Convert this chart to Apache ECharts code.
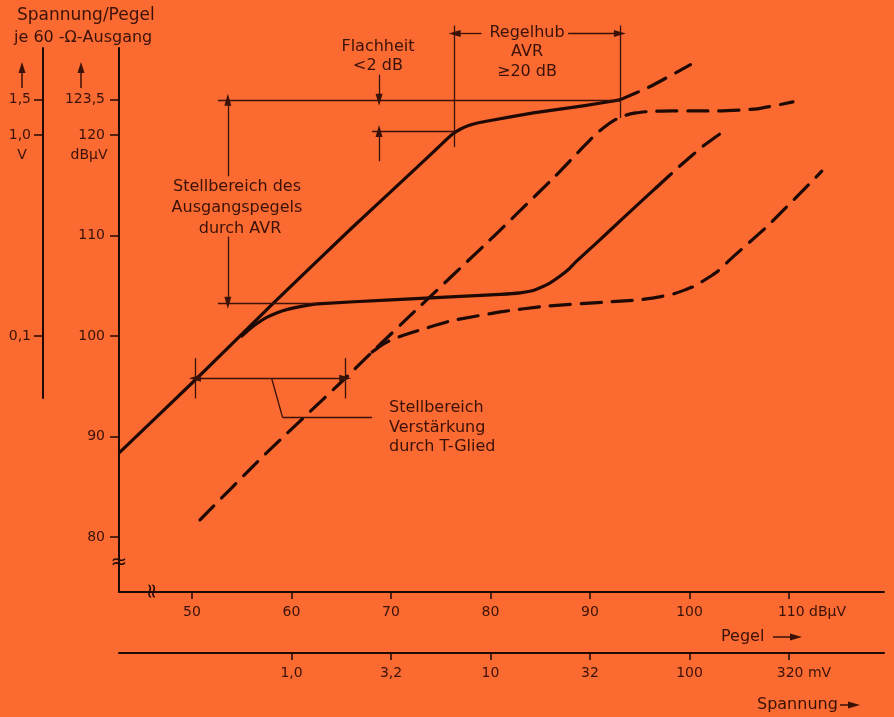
<!DOCTYPE html>
<html><head><meta charset="utf-8">
<script src="https://cdn.jsdelivr.net/npm/echarts@6/dist/echarts.min.js"></script>
<style>html,body{margin:0;padding:0;background:#fb6a30;}#c{width:894px;height:717px;}</style>
</head><body><div id="c"></div>
<script>
// ---------- data ----------
const pegelTicks = [50, 60, 70, 80, 90, 100, 110];
const pegelLabels = ['50', '60', '70', '80', '90', '100', '110'];
const spannungTicks = [60, 70, 80, 90, 100, 110];
const spannungLabels = ['1,0', '3,2', '10', '32', '100', '320'];
const outTicks = [80, 90, 100, 110, 120, 123.5];
const outLabels = ['80', '90', '100', '110', '120', '123,5'];
const voltTicks = [100, 120, 123.5];
const voltLabels = ['0,1', '1,0', '1,5'];

// solid: with AVR, upper control limit
const curveA = [[42.7,88.4],[50.5,95.8],[58.1,103.2],[66,110.7],[73.6,117.7],[75.3,119.3],[76.2,120.1],[77.0,120.6],[77.8,120.95],[78.7,121.2],[80,121.45],[84.3,122.2],[89.3,122.9],[93.0,123.5]];
const curveAext = [[93.0,123.5],[96.0,124.8],[100.1,127.0]];
// solid: with AVR, lower control limit
const curveB = [[55.0,100.0],[55.8,100.7],[56.6,101.3],[57.5,101.85],[58.5,102.3],[59.6,102.65],[61,102.95],[62.6,103.2],[70,103.6],[76,103.9],[81,104.15],[83.0,104.3],[84.2,104.5],[85.1,104.85],[86.0,105.3],[86.9,105.9],[87.8,106.6],[88.6,107.4],[90.8,109.4],[93.3,111.7],[95.8,114.0],[96.7,114.8]];
const curveBext = [[96.7,114.8],[99,116.9],[101.5,119.0],[103.6,120.5]];
// dashed: with T-Glied attenuation
const curveC = [[50.8,81.7],[57.1,88.0],[65.4,95.8],[68.1,98.4],[72,102.1],[80.3,109.9],[86.6,116.0],[89.3,118.8],[90.6,120.1],[91.6,120.9],[92.5,121.5],[93.5,121.95],[94.6,122.2],[96,122.35],[98.3,122.4],[102.8,122.4],[106.8,122.6],[110.4,123.3]];
const curveD = [[68.1,98.4],[68.9,99.0],[69.8,99.5],[70.9,99.95],[72.6,100.5],[76,101.5],[81,102.4],[85.3,102.95],[92,103.4],[95,103.6],[97,103.9],[98.6,104.25],[99.7,104.65],[100.6,105.0],[101.4,105.5],[102.2,106.0],[102.9,106.5],[104.4,107.9],[107.8,110.9],[113.3,116.4]];

// annotation segments in data units: [x1, y1, x2, y2, arrowAtEnd]
const annoLines = [
  [52.6,123.5, 93.0,123.5, 0],
  [52.6,103.3, 62.6,103.3, 0],
  [53.6,115.9, 53.6,123.5, 1],
  [53.6,109.9, 53.6,103.3, 1],
  [68.1,120.4, 76.4,120.4, 0],
  [68.8,117.4, 68.8,120.4, 1],
  [68.8,126.0, 68.8,123.5, 1],
  [76.4,130.9, 76.4,118.8, 0],
  [93.0,130.9, 93.0,121.7, 0],
  [79.1,130.1, 76.4,130.1, 1],
  [87.8,130.1, 93.0,130.1, 1],
  [50.3,97.8, 50.3,93.8, 0],
  [65.4,97.8, 65.4,93.8, 0],
  [57.8,95.8, 50.3,95.8, 1],
  [57.8,95.8, 65.4,95.8, 1],
  [58.0,95.8, 59.1,91.9, 0],
  [59.1,91.9, 68.1,91.9, 0]
];

// ---------- chart ----------
const BG = '#fb6a30', INK = '#1e0904', TXT = '#3a1208';
const FONT = '"DejaVu Sans", sans-serif';
const X_MIN = 42.66, X_MAX = 119.55, Y_MIN = 74.53, Y_MAX = 128.66;
const Y2_MAX = Y_MIN + (577 / 544) * (Y_MAX - Y_MIN);
const YV_MIN = Y_MAX - (350 / 544) * (Y_MAX - Y_MIN);

const lab = (ticks, labels) => v => { const i = ticks.indexOf(v); return i < 0 ? '' : labels[i]; };

function curve(data, dashed) {
  return {
    type: 'line', xAxisIndex: 0, yAxisIndex: 0, data, symbol: 'none', showSymbol: false,
    smooth: 0.15, silent: true, z: 3,
    lineStyle: { color: INK, width: 3.2, type: dashed ? [20, 11] : 'solid', cap: 'round', join: 'round' }
  };
}

function txt(x, y, s, opt) {
  return { type: 'text', x, y, silent: true, z: 10,
    style: Object.assign({ text: s, fill: TXT, fontSize: 16, fontFamily: FONT, align: 'center', verticalAlign: 'middle' }, opt || {}) };
}
function seg(x1, y1, x2, y2, w) {
  return { type: 'line', silent: true, z: 10, shape: { x1, y1, x2, y2 }, style: { stroke: TXT, lineWidth: w || 1.5 } };
}
function tri(pts) {
  return { type: 'polygon', silent: true, z: 10, shape: { points: pts }, style: { fill: TXT } };
}

const axisCommon = {
  axisLine: { lineStyle: { color: INK, width: 2 } },
  splitLine: { show: false },
  axisTick: { length: 8, lineStyle: { color: INK, width: 1.5 } },
  axisLabel: { color: TXT, fontSize: 14, fontFamily: FONT, margin: 13 }
};

const option = {
  backgroundColor: BG,
  animation: false,
  grid: [
    { left: 119, top: 48, width: 765, height: 544 },
    { left: 43, top: 48, width: 30, height: 350 },
    { left: 119, top: 15, width: 765, height: 577 }
  ],
  xAxis: [
    Object.assign({}, axisCommon, { type: 'value', gridIndex: 0, position: 'bottom', min: X_MIN, max: X_MAX,
      axisTick: Object.assign({}, axisCommon.axisTick, { customValues: pegelTicks, length: 7 }),
      axisLabel: Object.assign({}, axisCommon.axisLabel, { customValues: pegelTicks,
        formatter: v => v === 110 ? '{p|}110 dBµV' : lab(pegelTicks, pegelLabels)(v),
        rich: { p: { width: 46 } } }) }),
    Object.assign({}, axisCommon, { type: 'value', gridIndex: 0, position: 'bottom', offset: 61, min: X_MIN, max: X_MAX,
      axisTick: Object.assign({}, axisCommon.axisTick, { customValues: spannungTicks, length: 7 }),
      axisLabel: Object.assign({}, axisCommon.axisLabel, { customValues: spannungTicks,
        formatter: v => v === 110 ? '{p|}320 mV' : lab(spannungTicks, spannungLabels)(v),
        rich: { p: { width: 30 } } }) }),
    { type: 'value', gridIndex: 1, show: false, min: 0, max: 1 },
    { type: 'value', gridIndex: 2, show: false, min: X_MIN, max: X_MAX }
  ],
  yAxis: [
    Object.assign({}, axisCommon, { type: 'value', gridIndex: 0, min: Y_MIN, max: Y_MAX,
      axisTick: Object.assign({}, axisCommon.axisTick, { customValues: outTicks, length: 9 }),
      axisLabel: Object.assign({}, axisCommon.axisLabel, { customValues: outTicks, margin: 14, formatter: lab(outTicks, outLabels) }) }),
    Object.assign({}, axisCommon, { type: 'value', gridIndex: 1, min: YV_MIN, max: Y_MAX,
      axisTick: Object.assign({}, axisCommon.axisTick, { customValues: voltTicks, length: 9 }),
      axisLabel: Object.assign({}, axisCommon.axisLabel, { customValues: voltTicks, margin: 12, formatter: lab(voltTicks, voltLabels) }) }),
    { type: 'value', gridIndex: 2, show: false, min: Y_MIN, max: Y2_MAX }
  ],
  series: [
    curve(curveA, false), curve(curveAext, true),
    curve(curveB, false), curve(curveBext, true),
    curve(curveC, true), curve(curveD, true),
    {
      type: 'line', xAxisIndex: 3, yAxisIndex: 2, data: [], silent: true,
      markLine: {
        silent: true, animation: false, symbol: 'none', symbolSize: [7, 12],
        label: { show: false }, emphasis: { disabled: true },
        lineStyle: { type: 'solid', color: TXT, width: 1.3 },
        data: annoLines.map(a => [
          { coord: [a[0], a[1]], symbol: 'none' },
          { coord: [a[2], a[3]], symbol: a[4] ? 'triangle' : 'none' }
        ])
      }
    }
  ],
  graphic: [
    txt(17, 16, 'Spannung/Pegel', { align: 'left', fontSize: 17 }),
    txt(14, 38, 'je 60 -Ω-Ausgang', { align: 'left', fontSize: 16 }),
    seg(22, 70, 22, 88), tri([[22, 62], [18.5, 73], [25.5, 73]]),
    seg(81, 70, 81, 88), tri([[81, 62], [77.5, 73], [84.5, 73]]),
    txt(22, 155, 'V', { fontSize: 14 }),
    txt(89, 155, 'dBµV', { fontSize: 14 }),
    txt(119, 563, '≈', { fontSize: 20, fill: INK }),
    { type: 'text', x: 153, y: 591, rotation: Math.PI / 2, silent: true, z: 10,
      style: { text: '≈', fill: INK, fontSize: 20, fontFamily: FONT, align: 'center', verticalAlign: 'middle' } },
    txt(378, 47, 'Flachheit'),
    txt(378, 66, '<2 dB'),
    txt(527, 33, 'Regelhub'),
    txt(527, 52, 'AVR'),
    txt(527, 72, '≥20 dB'),
    txt(237, 187, 'Stellbereich des'),
    txt(237, 208, 'Ausgangspegels'),
    txt(240, 229, 'durch AVR'),
    txt(389, 408, 'Stellbereich', { align: 'left' }),
    txt(389, 428, 'Verstärkung', { align: 'left' }),
    txt(389, 447, 'durch T-Glied', { align: 'left' }),
    txt(721, 637, 'Pegel', { align: 'left' }),
    seg(773, 637, 792, 637), tri([[802, 637], [790, 633.5], [790, 640.5]]),
    txt(757, 705, 'Spannung', { align: 'left' }),
    seg(840, 705, 850, 705), tri([[860, 705], [848, 701.5], [848, 708.5]])
  ]
};

const chart = echarts.init(document.getElementById('c'));
chart.setOption(option);
</script>
</body></html>
